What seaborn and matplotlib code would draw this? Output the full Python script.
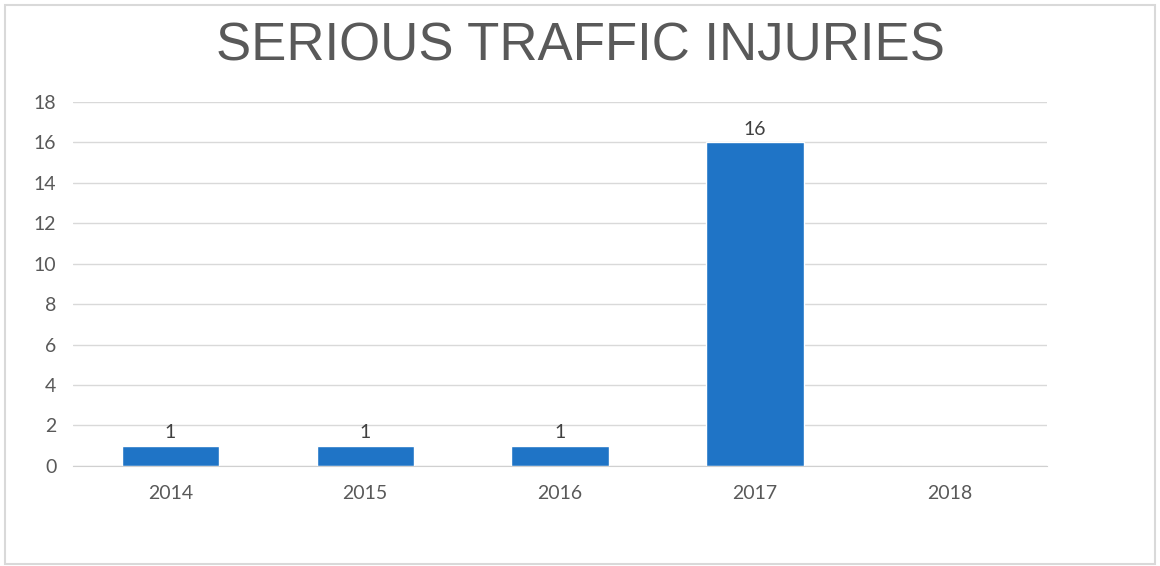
import seaborn as sns
import matplotlib.pyplot as plt
from matplotlib.patches import Rectangle

years = ['2014', '2015', '2016', '2017', '2018']
injuries = [1, 1, 1, 16, 0]
y_ticks = [0, 2, 4, 6, 8, 10, 12, 14, 16, 18]

sns.set_style('white')
plt.rcParams['font.family'] = ['Lato', 'DejaVu Sans']

fig = plt.figure(figsize=(11.6, 5.66), dpi=100)
ax = fig.add_axes([0.063, 0.177, 0.8396, 0.643])

sns.barplot(x=years, y=injuries, color='#1f74c6', width=0.5, saturation=1, ax=ax)

ax.set_ylim(0, 18)
ax.set_yticks(y_ticks)
ax.yaxis.grid(True, color='#d9d9d9', linewidth=1)
ax.set_axisbelow(True)
for s in ['top', 'right', 'left']:
    ax.spines[s].set_visible(False)
ax.spines['bottom'].set_color('#d0d0d0')
ax.tick_params(axis='both', length=0, labelsize=14, labelcolor='#595959')
ax.tick_params(axis='x', pad=14)
ax.tick_params(axis='y', pad=12)

# value labels, skip the empty year
for i, v in enumerate(injuries):
    if v > 0:
        ax.annotate(str(v), (i, v), xytext=(0, 3), textcoords='offset points',
                    ha='center', va='bottom', fontsize=14, color='#404040')

fig.text(0.5, 0.918, 'SERIOUS TRAFFIC INJURIES', ha='center', va='center',
         fontsize=38, color='#595959', family=['Liberation Sans', 'DejaVu Sans'])

fig.patches.append(Rectangle((0.004, 0.004), 0.992, 0.988, transform=fig.transFigure,
                             fill=False, edgecolor='#d9d9d9', linewidth=1.5))

fig.savefig('out.png', dpi=100)
